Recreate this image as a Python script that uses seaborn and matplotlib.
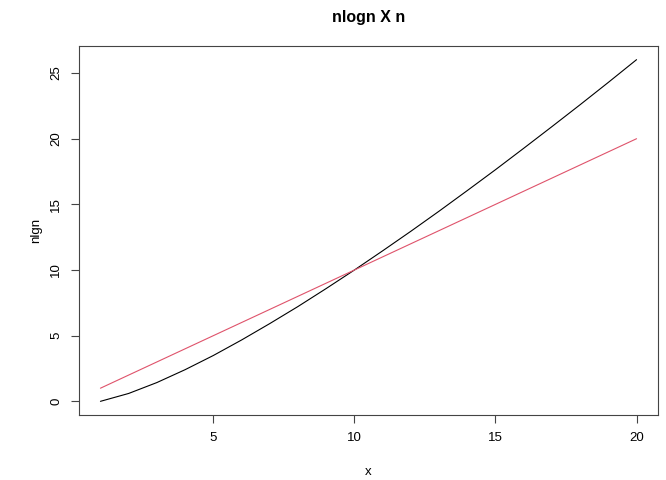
import matplotlib
matplotlib.use("Agg")
import matplotlib.pyplot as plt
import seaborn as sns
import pandas as pd

# values
n_values = list(range(1, 21))
nlogn_values = [0.00, 0.60, 1.43, 2.41, 3.49, 4.67, 5.92, 7.22, 8.59, 10.00,
                11.46, 12.95, 14.48, 16.05, 17.64, 19.27, 20.92, 22.59, 24.29, 26.02]
n_line_values = [1, 2, 3, 4, 5, 6, 7, 8, 9, 10,
                 11, 12, 13, 14, 15, 16, 17, 18, 19, 20]
x_ticks = [5, 10, 15, 20]
y_ticks = [0, 5, 10, 15, 20, 25]

df = pd.DataFrame({"x": n_values, "nlogn": nlogn_values, "n": n_line_values})

sns.set_style("white")
plt.rcParams['font.family'] = ['Liberation Sans', 'DejaVu Sans']
plt.rcParams['text.color'] = 'black'
plt.rcParams['axes.labelcolor'] = 'black'
plt.rcParams['xtick.color'] = 'black'
plt.rcParams['ytick.color'] = 'black'

fig = plt.figure(figsize=(6.66, 4.8), dpi=100)
ax = fig.add_axes([79 / 666, 65 / 480, 579 / 666, 369 / 480])

sns.lineplot(data=df, x="x", y="nlogn", color="black", linewidth=0.8, ax=ax)
sns.lineplot(data=df, x="x", y="n", color="#DF536B", linewidth=0.8, ax=ax)

# R-style 4% padding
xr = max(n_values) - min(n_values)
ax.set_xlim(min(n_values) - 0.04 * xr, max(n_values) + 0.04 * xr)
yr = max(nlogn_values) - min(nlogn_values)
ax.set_ylim(min(nlogn_values) - 0.04 * yr, max(nlogn_values) + 0.04 * yr)

ax.set_xticks(x_ticks)
ax.set_yticks(y_ticks)
ax.tick_params(direction="out", length=6, width=0.8, color="#444444",
               labelsize=9.5, pad=6, bottom=True, left=True)
for lab in ax.get_yticklabels():
    lab.set_rotation(90)
    lab.set_va("center")

for s in ax.spines.values():
    s.set_color("#444444")
    s.set_linewidth(0.8)

ax.set_xlabel("x", fontsize=9.5, labelpad=16)
ax.set_ylabel("nlgn", fontsize=9.5, labelpad=6)
ax.set_title("nlogn X n", fontsize=11.5, fontweight="bold", pad=17)

fig.savefig("out.png", dpi=100)
